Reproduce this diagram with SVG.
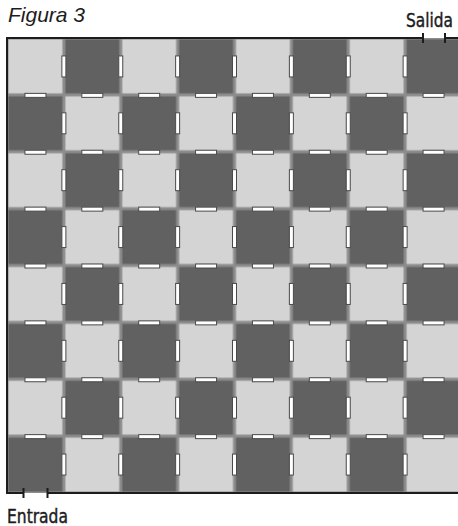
<svg xmlns="http://www.w3.org/2000/svg" xmlns:xlink="http://www.w3.org/1999/xlink" width="458" height="526" viewBox="0 0 458 526">
<style>
.door{fill:#ffffff;stroke:#4a4a4a;stroke-width:1}
.frame{stroke:#1c1c1c;stroke-width:2;fill:none}
.lbl{font-family:"Liberation Sans Narrow","DejaVu Sans Condensed","Liberation Sans",sans-serif;font-size:19px;fill:#1c1c1c;stroke:#1c1c1c;stroke-width:0.4}
.title{font-family:"Liberation Sans",Arial,sans-serif;font-style:italic;font-size:21px;fill:#1c1c1c}
</style>
<defs>
<pattern id="checker" patternUnits="userSpaceOnUse" x="7" y="38" width="113.75" height="113.75">
<rect x="0" y="0" width="113.75" height="113.75" fill="#8c8c8c"/>
<rect x="1.5" y="1.5" width="53.875" height="53.875" fill="#d4d4d4"/>
<rect x="58.375" y="1.5" width="53.875" height="53.875" fill="#616161"/>
<rect x="1.5" y="58.375" width="53.875" height="53.875" fill="#616161"/>
<rect x="58.375" y="58.375" width="53.875" height="53.875" fill="#d4d4d4"/>
</pattern>
<rect id="dv" class="door" x="-2" y="-10.5" width="4" height="21"/>
<rect id="dh" class="door" x="-10.5" y="-1.5" width="21" height="4"/>
</defs>
<rect width="458" height="526" fill="#ffffff"/>
<text class="title" x="8" y="22">Figura 3</text>
<g id="maze">
<rect x="7" y="38" width="455" height="455" fill="url(#checker)"/>
</g>
<g id="doors">
<g id="vertical-doors">
<use xlink:href="#dv" x="63.875" y="66.4375"/><use xlink:href="#dv" x="120.75" y="66.4375"/><use xlink:href="#dv" x="177.625" y="66.4375"/><use xlink:href="#dv" x="234.5" y="66.4375"/><use xlink:href="#dv" x="291.375" y="66.4375"/><use xlink:href="#dv" x="348.25" y="66.4375"/><use xlink:href="#dv" x="405.125" y="66.4375"/>
<use xlink:href="#dv" x="63.875" y="123.3125"/><use xlink:href="#dv" x="120.75" y="123.3125"/><use xlink:href="#dv" x="177.625" y="123.3125"/><use xlink:href="#dv" x="234.5" y="123.3125"/><use xlink:href="#dv" x="291.375" y="123.3125"/><use xlink:href="#dv" x="348.25" y="123.3125"/><use xlink:href="#dv" x="405.125" y="123.3125"/>
<use xlink:href="#dv" x="63.875" y="180.1875"/><use xlink:href="#dv" x="120.75" y="180.1875"/><use xlink:href="#dv" x="177.625" y="180.1875"/><use xlink:href="#dv" x="234.5" y="180.1875"/><use xlink:href="#dv" x="291.375" y="180.1875"/><use xlink:href="#dv" x="348.25" y="180.1875"/><use xlink:href="#dv" x="405.125" y="180.1875"/>
<use xlink:href="#dv" x="63.875" y="237.0625"/><use xlink:href="#dv" x="120.75" y="237.0625"/><use xlink:href="#dv" x="177.625" y="237.0625"/><use xlink:href="#dv" x="234.5" y="237.0625"/><use xlink:href="#dv" x="291.375" y="237.0625"/><use xlink:href="#dv" x="348.25" y="237.0625"/><use xlink:href="#dv" x="405.125" y="237.0625"/>
<use xlink:href="#dv" x="63.875" y="293.9375"/><use xlink:href="#dv" x="120.75" y="293.9375"/><use xlink:href="#dv" x="177.625" y="293.9375"/><use xlink:href="#dv" x="234.5" y="293.9375"/><use xlink:href="#dv" x="291.375" y="293.9375"/><use xlink:href="#dv" x="348.25" y="293.9375"/><use xlink:href="#dv" x="405.125" y="293.9375"/>
<use xlink:href="#dv" x="63.875" y="350.8125"/><use xlink:href="#dv" x="120.75" y="350.8125"/><use xlink:href="#dv" x="177.625" y="350.8125"/><use xlink:href="#dv" x="234.5" y="350.8125"/><use xlink:href="#dv" x="291.375" y="350.8125"/><use xlink:href="#dv" x="348.25" y="350.8125"/><use xlink:href="#dv" x="405.125" y="350.8125"/>
<use xlink:href="#dv" x="63.875" y="407.6875"/><use xlink:href="#dv" x="120.75" y="407.6875"/><use xlink:href="#dv" x="177.625" y="407.6875"/><use xlink:href="#dv" x="234.5" y="407.6875"/><use xlink:href="#dv" x="291.375" y="407.6875"/><use xlink:href="#dv" x="348.25" y="407.6875"/><use xlink:href="#dv" x="405.125" y="407.6875"/>
<use xlink:href="#dv" x="63.875" y="464.5625"/><use xlink:href="#dv" x="120.75" y="464.5625"/><use xlink:href="#dv" x="177.625" y="464.5625"/><use xlink:href="#dv" x="234.5" y="464.5625"/><use xlink:href="#dv" x="291.375" y="464.5625"/><use xlink:href="#dv" x="348.25" y="464.5625"/><use xlink:href="#dv" x="405.125" y="464.5625"/>
</g>
<g id="horizontal-doors">
<use xlink:href="#dh" x="35.4375" y="94.875"/><use xlink:href="#dh" x="92.3125" y="94.875"/><use xlink:href="#dh" x="149.1875" y="94.875"/><use xlink:href="#dh" x="206.0625" y="94.875"/><use xlink:href="#dh" x="262.9375" y="94.875"/><use xlink:href="#dh" x="319.8125" y="94.875"/><use xlink:href="#dh" x="376.6875" y="94.875"/><use xlink:href="#dh" x="433.5625" y="94.875"/>
<use xlink:href="#dh" x="35.4375" y="151.75"/><use xlink:href="#dh" x="92.3125" y="151.75"/><use xlink:href="#dh" x="149.1875" y="151.75"/><use xlink:href="#dh" x="206.0625" y="151.75"/><use xlink:href="#dh" x="262.9375" y="151.75"/><use xlink:href="#dh" x="319.8125" y="151.75"/><use xlink:href="#dh" x="376.6875" y="151.75"/><use xlink:href="#dh" x="433.5625" y="151.75"/>
<use xlink:href="#dh" x="35.4375" y="208.625"/><use xlink:href="#dh" x="92.3125" y="208.625"/><use xlink:href="#dh" x="149.1875" y="208.625"/><use xlink:href="#dh" x="206.0625" y="208.625"/><use xlink:href="#dh" x="262.9375" y="208.625"/><use xlink:href="#dh" x="319.8125" y="208.625"/><use xlink:href="#dh" x="376.6875" y="208.625"/><use xlink:href="#dh" x="433.5625" y="208.625"/>
<use xlink:href="#dh" x="35.4375" y="265.5"/><use xlink:href="#dh" x="92.3125" y="265.5"/><use xlink:href="#dh" x="149.1875" y="265.5"/><use xlink:href="#dh" x="206.0625" y="265.5"/><use xlink:href="#dh" x="262.9375" y="265.5"/><use xlink:href="#dh" x="319.8125" y="265.5"/><use xlink:href="#dh" x="376.6875" y="265.5"/><use xlink:href="#dh" x="433.5625" y="265.5"/>
<use xlink:href="#dh" x="35.4375" y="322.375"/><use xlink:href="#dh" x="92.3125" y="322.375"/><use xlink:href="#dh" x="149.1875" y="322.375"/><use xlink:href="#dh" x="206.0625" y="322.375"/><use xlink:href="#dh" x="262.9375" y="322.375"/><use xlink:href="#dh" x="319.8125" y="322.375"/><use xlink:href="#dh" x="376.6875" y="322.375"/><use xlink:href="#dh" x="433.5625" y="322.375"/>
<use xlink:href="#dh" x="35.4375" y="379.25"/><use xlink:href="#dh" x="92.3125" y="379.25"/><use xlink:href="#dh" x="149.1875" y="379.25"/><use xlink:href="#dh" x="206.0625" y="379.25"/><use xlink:href="#dh" x="262.9375" y="379.25"/><use xlink:href="#dh" x="319.8125" y="379.25"/><use xlink:href="#dh" x="376.6875" y="379.25"/><use xlink:href="#dh" x="433.5625" y="379.25"/>
<use xlink:href="#dh" x="35.4375" y="436.125"/><use xlink:href="#dh" x="92.3125" y="436.125"/><use xlink:href="#dh" x="149.1875" y="436.125"/><use xlink:href="#dh" x="206.0625" y="436.125"/><use xlink:href="#dh" x="262.9375" y="436.125"/><use xlink:href="#dh" x="319.8125" y="436.125"/><use xlink:href="#dh" x="376.6875" y="436.125"/><use xlink:href="#dh" x="433.5625" y="436.125"/>
</g>
</g>
<g id="frame">
<path class="frame" d="M423 38 H7 V493 H23.5 M47.5 493 H462 M445 38 H462"/>
<path class="frame" d="M423 33 V43 M445 33 V43 M23.5 488 V498 M47.5 488 V498"/>
</g>
<g id="labels">
<text class="lbl" x="406" y="27" textLength="47" lengthAdjust="spacingAndGlyphs">Salida</text>
<text class="lbl" x="7" y="523" textLength="61" lengthAdjust="spacingAndGlyphs">Entrada</text>
</g>
</svg>
